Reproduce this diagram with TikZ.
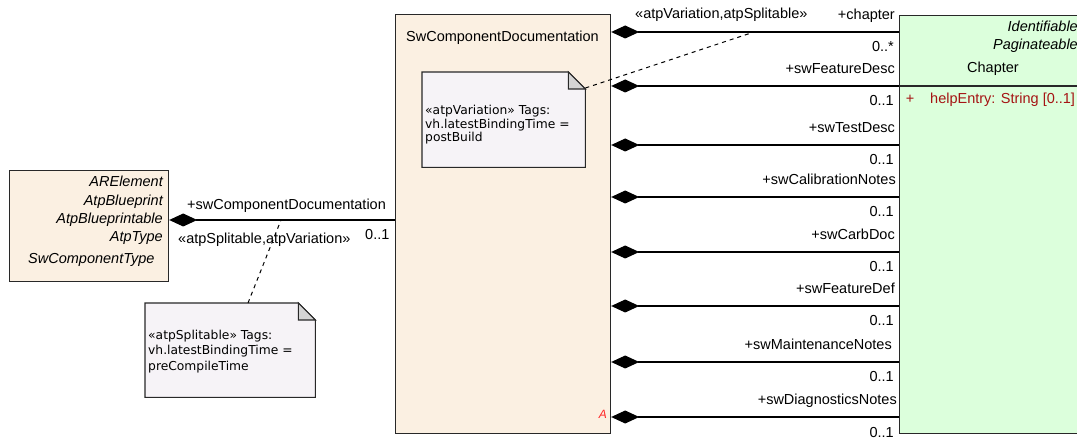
\documentclass[tikz,border=0pt]{standalone}
\usepackage{fontspec}
\setmainfont{Liberation Sans}
\newfontfamily\notefont{DejaVu Sans}
\usetikzlibrary{arrows.meta,calc}
\definecolor{beige}{RGB}{251,240,226}
\definecolor{chgreen}{RGB}{220,255,220}
\definecolor{notefill}{RGB}{246,243,247}
\definecolor{foldgray}{RGB}{212,212,212}
\definecolor{attrred}{RGB}{165,20,20}
\definecolor{abstractred}{RGB}{255,40,40}
\definecolor{border}{RGB}{40,40,40}
\begin{document}
\begin{tikzpicture}[x=1pt,y=-1pt,
  lbl/.style={inner sep=0pt, font=\fontsize{14.5}{17}\selectfont},
  ilbl/.style={lbl, font=\fontsize{14.5}{17}\selectfont\itshape},
  classbox/.style={draw=border, line width=1.2pt, inner sep=0pt, anchor=north west},
  notebg/.style={inner sep=0pt, anchor=north west},
  noteline/.style={draw=border, line width=1.1pt, fill=notefill},
  foldtri/.style={draw=border, line width=1.1pt, fill=foldgray},
  notetext/.style={inner sep=0pt, anchor=base west, font=\notefont\fontsize{12.3}{13.5}\selectfont},
  comp/.style={line width=1.2pt, {Diamond[length=28pt,width=13pt]}-},
  anchorline/.style={line width=1pt, dash pattern=on 4pt off 4pt}]
\useasboundingbox (0,0) rectangle (1077,438);
\begin{scope}
\clip (0,0) rectangle (1077,438);

% boxes
\node[classbox, fill=beige, minimum width=159pt, minimum height=111pt] (elem) at (9,170) {};
\node[classbox, fill=beige, minimum width=215pt, minimum height=419pt] (doc) at (395,14) {};
\node[classbox, fill=chgreen, minimum width=186pt, minimum height=418pt] (ch) at (899,15) {};
\draw[line width=1.2pt, draw=border] (ch.west |- 0,86) -- (ch.east |- 0,86);

% left class texts
\node[ilbl, anchor=base east] (t1) at (163,187) {ARElement};
\node[ilbl, anchor=base east] (t2) at (163,206) {AtpBlueprint};
\node[ilbl, anchor=base east] (t3) at (163,224) {AtpBlueprintable};
\node[ilbl, anchor=base east] (t4) at (163,242) {AtpType};
\node[ilbl, anchor=base west] (t5) at (28,264) {SwComponentType};

% doc class texts
\node[lbl, anchor=base] (dtitle) at (502.5,42) {SwComponentDocumentation};
\node[ilbl, anchor=base east, text=abstractred, font=\fontsize{12}{14}\selectfont\itshape] (abs) at (607,418) {A};

% chapter class texts
\node[ilbl, anchor=base east] (c1) at (1078,32) {Identifiable};
\node[ilbl, anchor=base east] (c2) at (1078,50) {Paginateable};
\node[lbl, anchor=base west] (c3) at (967,73) {Chapter};
\node[lbl, anchor=base, text=attrred] (c4) at (910,104) {+};
\node[lbl, anchor=base west, text=attrred] (c5) at (930,104) {helpEntry: String [0..1]};

% left connector
\coordinate (yL) at (0,220);
\draw[comp] (elem.east |- yL) -- (doc.west |- yL);
\node[lbl, anchor=base west] (l1) at (187,210) {+swComponentDocumentation};
\node[lbl, anchor=base west] (l2) at (178,244) {«atpSplitable,atpVariation»};
\node[lbl, anchor=base west] (l3) at (365,240) {0..1};

% composition connectors
\foreach \yy/\role/\mult/\rx in {32/+chapter/0..*/895, 86/+swFeatureDesc/0..1/895, 145/+swTestDesc/0..1/895, 197/+swCalibrationNotes/0..1/896, 252/+swCarbDoc/0..1/895, 306/+swFeatureDef/0..1/895, 362/+swMaintenanceNotes/0..1/892, 417/+swDiagnosticsNotes/0..1/897}{
  \coordinate (ly) at (0,\yy);
  \draw[comp] (doc.east |- ly) -- (ch.west |- ly);
  \node[lbl, anchor=base east] at (\rx,\yy-12) {\role};
  \node[lbl, anchor=base east] at (894,\yy+20) {\mult};
}
\node[lbl, anchor=base west] (st) at (635,19) {«atpVariation,atpSplitable»};

% note 1
\node[notebg, minimum width=170pt, minimum height=94pt] (n1) at (145,303) {};
\draw[noteline] (n1.north west) -- ([xshift=-17pt]n1.north east) -- ([yshift=-17pt]n1.north east) -- (n1.south east) -- (n1.south west) -- cycle;
\draw[foldtri] ([xshift=-17pt]n1.north east) -- ([xshift=-17pt,yshift=-17pt]n1.north east) -- ([yshift=-17pt]n1.north east) -- cycle;
\node[notetext] at (148,340) {«atpSplitable» Tags:};
\node[notetext] at (148,355) {vh.latestBindingTime =};
\node[notetext] at (148,371) {preCompileTime};
\coordinate (d1) at (281,220);
\draw[anchorline] ([xshift=103pt]n1.north west) -- (d1);

% note 2
\node[notebg, minimum width=163pt, minimum height=95pt] (n2) at (422,72) {};
\draw[noteline] (n2.north west) -- ([xshift=-17pt]n2.north east) -- ([yshift=-17pt]n2.north east) -- (n2.south east) -- (n2.south west) -- cycle;
\draw[foldtri] ([xshift=-17pt]n2.north east) -- ([xshift=-17pt,yshift=-17pt]n2.north east) -- ([yshift=-17pt]n2.north east) -- cycle;
\node[notetext] at (425,115) {«atpVariation» Tags:};
\node[notetext] at (425,128.5) {vh.latestBindingTime =};
\node[notetext] at (425,142) {postBuild};
\coordinate (d2) at (754,32);
\draw[anchorline] ([yshift=-16pt]n2.north east) -- (d2);
\end{scope}
\end{tikzpicture}
\end{document}
